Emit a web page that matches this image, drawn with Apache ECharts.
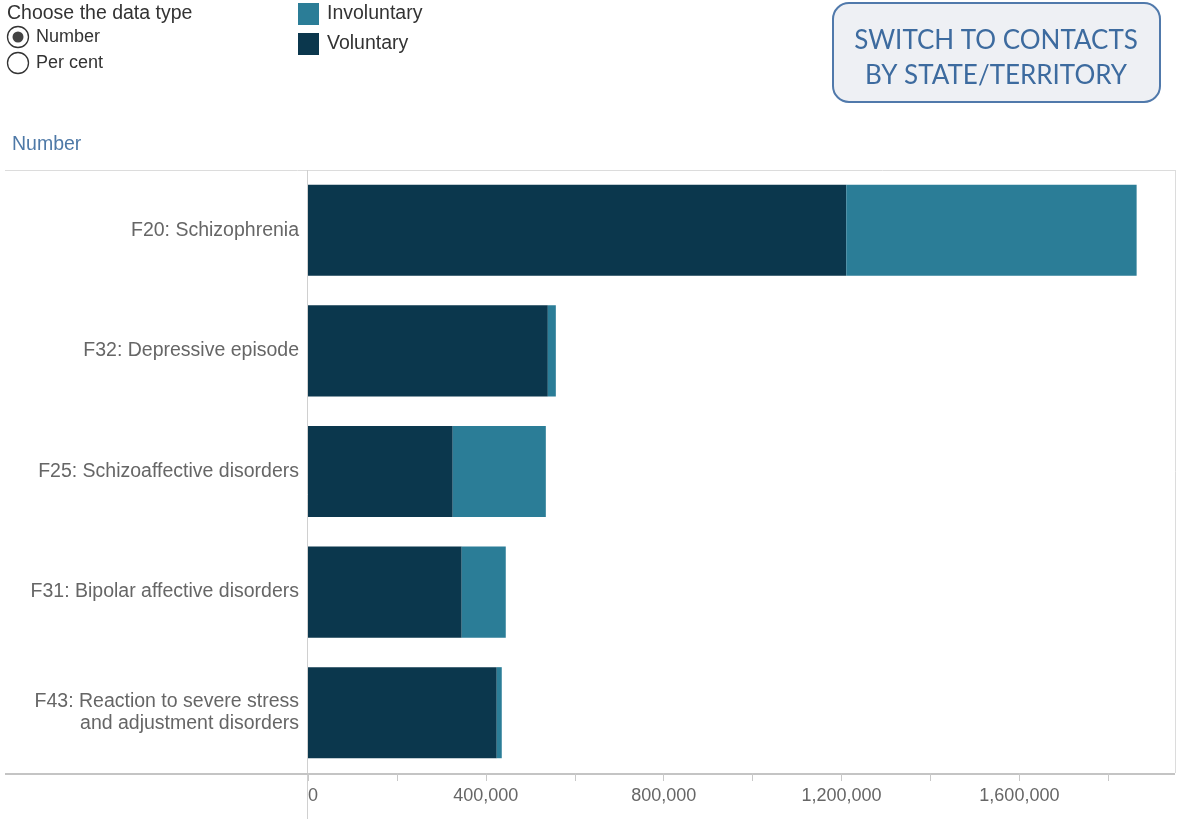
<!DOCTYPE html>
<html>
<head>
<meta charset="utf-8">
<script src="https://cdn.jsdelivr.net/npm/echarts@6/dist/echarts.min.js"></script>
<style>
html,body{margin:0;padding:0;background:#fff;}
#chart{width:1177px;height:819px;}
</style>
</head>
<body>
<div id="chart"></div>
<script>
var categories = [
  'F20: Schizophrenia',
  'F32: Depressive episode',
  'F25: Schizoaffective disorders',
  'F31: Bipolar affective disorders',
  'F43: Reaction to severe stress\nand adjustment disorders'
];
var voluntary   = [1210600, 539400, 325500, 345700, 424500];
var involuntary = [653100, 18000, 209400, 99100, 11300];
var tickValues  = [0, 200000, 400000, 600000, 800000, 1000000, 1200000, 1400000, 1600000, 1800000];
var labelValues = [0, 400000, 800000, 1200000, 1600000];

var FONT = '"Liberation Sans", Arial, sans-serif';
var chart = echarts.init(document.getElementById('chart'), null, {renderer: 'canvas'});

var option = {
  animation: false,
  backgroundColor: '#ffffff',
  textStyle: {fontFamily: FONT},
  grid: {left: 308, top: 170, right: 2, bottom: 46, containLabel: false},
  legend: {
    data: ['Involuntary', 'Voluntary'],
    orient: 'vertical',
    left: 293, top: -2,
    itemWidth: 21, itemHeight: 22, itemGap: 8,
    icon: 'rect',
    selectedMode: false,
    textStyle: {fontFamily: FONT, fontSize: 19.5, color: '#333', padding: [0, 0, 0, 3]}
  },
  xAxis: {
    type: 'value',
    min: 0, max: 1950000, interval: 200000,
    axisLine: {show: false},
    splitLine: {show: false},
    axisTick: {show: true, length: 8, lineStyle: {color: '#c8c8c8', width: 1}, customValues: tickValues},
    axisLabel: {
      customValues: labelValues,
      margin: 14,
      fontFamily: FONT, fontSize: 18, color: '#666',
      alignMinLabel: 'left',
      formatter: function (v) { return v.toLocaleString('en-US'); }
    }
  },
  yAxis: {
    type: 'category',
    inverse: true,
    data: categories,
    axisLine: {show: false},
    axisTick: {show: false},
    splitLine: {show: false},
    axisLabel: {
      fontFamily: FONT, fontSize: 19.5, color: '#666', margin: 9,
      align: 'right', lineHeight: 22
    }
  },
  series: [
    {
      name: 'Voluntary', type: 'bar', stack: 'total',
      data: voluntary, barWidth: '75.5%',
      itemStyle: {color: '#0b374d'}
    },
    {
      name: 'Involuntary', type: 'bar', stack: 'total',
      data: involuntary, barWidth: '75.5%',
      itemStyle: {color: '#2b7d97'}
    }
  ],
  graphic: [
    {type: 'text', left: 7, top: 4, style: {text: 'Choose the data type', font: '19.5px ' + FONT, fill: '#333'}},
    {type: 'circle', shape: {cx: 18, cy: 37, r: 10.5}, style: {fill: '#fff', stroke: '#333', lineWidth: 1.3}},
    {type: 'circle', shape: {cx: 18, cy: 37, r: 5.5}, style: {fill: '#444'}},
    {type: 'text', left: 36, top: 28, style: {text: 'Number', font: '18px ' + FONT, fill: '#333'}},
    {type: 'circle', shape: {cx: 18, cy: 63, r: 10.5}, style: {fill: '#fff', stroke: '#333', lineWidth: 1.3}},
    {type: 'text', left: 36, top: 54, style: {text: 'Per cent', font: '18px ' + FONT, fill: '#333'}},
    {type: 'rect', shape: {x: 833, y: 3, width: 327, height: 99, r: 16}, style: {fill: '#eef0f4', stroke: '#5079ab', lineWidth: 2}},
    {type: 'text', x: 996, y: 41, style: {text: 'SWITCH TO CONTACTS', font: '26px Lato, "Open Sans", sans-serif', fill: '#3d6b9f', align: 'center', verticalAlign: 'middle'}},
    {type: 'text', x: 996, y: 76, style: {text: 'BY STATE/TERRITORY', font: '26px Lato, "Open Sans", sans-serif', fill: '#3d6b9f', align: 'center', verticalAlign: 'middle'}},
    {type: 'text', left: 12, top: 135, style: {text: 'Number', font: '19.5px ' + FONT, fill: '#4e79a7'}},
    {type: 'line', shape: {x1: 5, y1: 170.5, x2: 1175, y2: 170.5}, style: {stroke: '#dcdcdc', lineWidth: 1}},
    {type: 'line', shape: {x1: 1175.5, y1: 170, x2: 1175.5, y2: 773}, style: {stroke: '#dcdcdc', lineWidth: 1}},
    {type: 'line', shape: {x1: 307.5, y1: 170, x2: 307.5, y2: 819}, style: {stroke: '#d0d0d0', lineWidth: 1}},
    {type: 'line', shape: {x1: 5, y1: 774, x2: 1175, y2: 774}, style: {stroke: '#c4c4c4', lineWidth: 2}}
  ]
};
chart.setOption(option);
</script>
</body>
</html>
